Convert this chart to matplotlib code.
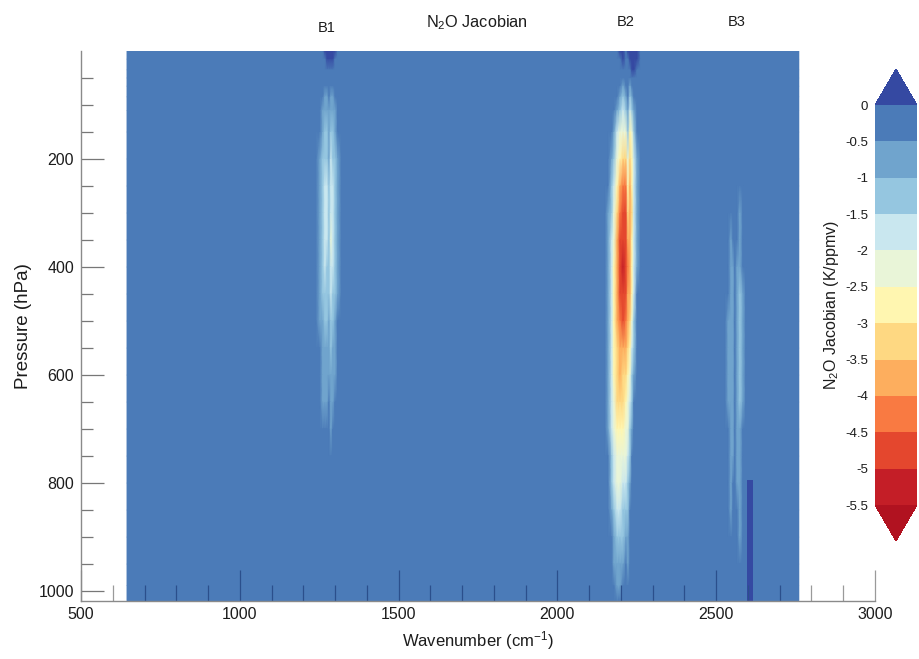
"""
N2O Jacobian shaded plot: wavenumber vs pressure.
"""

import numpy as np
import matplotlib
matplotlib.use('Agg')
import matplotlib.pyplot as plt
import matplotlib.colors as mcolors
from matplotlib.cm import ScalarMappable

plt.rcParams['font.family'] = ['Liberation Sans', 'DejaVu Sans']
plt.rcParams['mathtext.default'] = 'regular'

W, H = 919, 659

levels = [-5.5, -5, -4.5, -4, -3.5, -3, -2.5, -2, -1.5, -1, -0.5, 0]
level_labels = ['-5.5', '-5', '-4.5', '-4', '-3.5', '-3', '-2.5', '-2', '-1.5', '-1', '-0.5', '0']
level_colors = ['#c41e27', '#e4472e', '#f97a42', '#fdae5e', '#fed882', '#fff6b0',
                '#e9f5d8', '#c9e7ef', '#95c6e0', '#70a4cd', '#4b7bb8']
color_under = '#b11220'
color_over = '#3549a2'

pressure = [0, 15, 35, 50, 65, 85, 110, 150, 200, 250, 300, 350, 400,
            450, 500, 550, 600, 650, 700, 750, 800, 850, 900, 950, 990, 1018]

b1_wn = [1240, 1252, 1261, 1268, 1275, 1281, 1287, 1293, 1300, 1308, 1320]
b1_val = [
    [-.1, -.1, -.1, .02, .1, .1, .1, .1, .02, -.1, -.1],
    [-.1, -.1, -.1, -.1, .03, .05, .05, .03, -.1, -.1, -.1],
    [-.1, -.1, -.1, -.1, -.1, -.1, -.1, -.1, -.1, -.1, -.1],
    [-.1, -.1, -.1, -.1, -.1, -.1, -.1, -.1, -.1, -.1, -.1],
    [-.1, -.1, -.1, -.2, -.2, -.1, -.2, -.2, -.1, -.1, -.1],
    [-.1, -.1, -.3, -.7, -.6, -.4, -.7, -.8, -.3, -.1, -.1],
    [-.1, -.2, -.6, -.9, -.8, -.6, -1.0, -1.0, -.6, -.2, -.1],
    [-.1, -.4, -.9, -1.1, -1.1, -.8, -1.3, -1.2, -.9, -.4, -.1],
    [-.1, -.6, -1.1, -1.4, -1.4, -1.0, -1.6, -1.5, -1.1, -.6, -.1],
    [-.2, -.7, -1.2, -1.6, -1.6, -1.1, -1.9, -1.7, -1.2, -.7, -.2],
    [-.2, -.7, -1.3, -1.7, -1.6, -1.2, -2.0, -1.8, -1.3, -.7, -.2],
    [-.2, -.7, -1.3, -1.7, -1.6, -1.2, -2.1, -1.8, -1.3, -.7, -.2],
    [-.2, -.7, -1.3, -1.7, -1.5, -1.2, -2.0, -1.7, -1.2, -.7, -.2],
    [-.2, -.7, -1.2, -1.5, -1.3, -1.1, -1.8, -1.5, -1.1, -.6, -.2],
    [-.1, -.6, -1.0, -1.2, -1.1, -.9, -1.5, -1.2, -.9, -.5, -.1],
    [-.1, -.5, -.9, -1.0, -.9, -.7, -1.2, -1.0, -.8, -.4, -.1],
    [-.1, -.4, -.7, -.8, -.7, -.6, -1.0, -.8, -.6, -.3, -.1],
    [-.1, -.3, -.6, -.7, -.6, -.5, -.7, -.6, -.5, -.2, -.1],
    [-.1, -.2, -.5, -.5, -.4, -.4, -.6, -.5, -.4, -.1, -.1],
    [-.1, -.1, -.3, -.4, -.3, -.2, -.4, -.3, -.2, -.1, -.1],
    [-.1, -.1, -.2, -.3, -.2, -.2, -.3, -.2, -.2, -.1, -.1],
    [-.1, -.1, -.2, -.2, -.2, -.1, -.2, -.2, -.1, -.1, -.1],
    [-.1, -.1, -.1, -.2, -.1, -.1, -.1, -.1, -.1, -.1, -.1],
    [-.1, -.1, -.1, -.1, -.1, -.1, -.1, -.1, -.1, -.1, -.1],
    [-.1, -.1, -.1, -.1, -.1, -.1, -.1, -.1, -.1, -.1, -.1],
    [-.1, -.1, -.1, -.1, -.1, -.1, -.1, -.1, -.1, -.1, -.1],
]

b2_wn = [2150, 2160, 2171, 2178, 2188, 2197, 2207, 2216, 2222, 2229, 2235, 2241, 2251, 2262]
b2_val = [
    [-.1, -.1, -.1, -.1, -.1, .2, .2, -.1, .1, .4, .5, .5, .3, -.1],
    [-.1, -.1, -.1, -.1, -.1, -.1, .05, -.1, -.1, .2, .4, .4, .05, -.1],
    [-.1, -.1, -.1, -.1, -.1, -.1, -.1, -.1, -.1, -.1, .15, .3, -.1, -.1],
    [-.1, -.1, -.1, -.1, -.1, -.1, -.1, -.1, -.1, -.1, -.1, -.1, -.1, -.1],
    [-.1, -.1, -.1, -.1, -.1, -.2, -.7, -.4, -.2, -.8, -.4, -.1, -.1, -.1],
    [-.1, -.1, -.1, -.1, -.3, -.8, -1.2, -.9, -.4, -1.3, -1.0, -.4, -.1, -.1],
    [-.1, -.1, -.1, -.3, -.8, -1.3, -1.6, -1.4, -.7, -1.8, -1.5, -.9, -.2, -.1],
    [-.1, -.1, -.3, -.9, -1.7, -2.2, -2.5, -2.4, -1.3, -2.8, -2.1, -1.3, -.5, -.1],
    [-.1, -.2, -.8, -1.5, -2.4, -3.0, -3.2, -3.2, -2.2, -3.3, -2.6, -1.7, -.6, -.1],
    [-.1, -.5, -1.2, -2.0, -3.0, -3.8, -4.1, -4.1, -3.0, -3.7, -3.0, -1.9, -.7, -.1],
    [-.1, -.6, -1.5, -2.3, -3.4, -4.3, -4.7, -4.7, -3.5, -4.0, -3.1, -2.0, -.7, -.1],
    [-.1, -.7, -1.7, -2.5, -3.6, -4.7, -4.95, -4.95, -3.9, -4.0, -3.0, -2.0, -.7, -.1],
    [-.1, -.7, -1.8, -2.7, -3.7, -4.9, -5.05, -5.0, -4.1, -3.9, -2.9, -1.9, -.6, -.1],
    [-.1, -.7, -1.8, -2.7, -3.7, -4.8, -4.95, -4.8, -4.0, -3.7, -2.7, -1.7, -.5, -.1],
    [-.1, -.7, -1.8, -2.7, -3.6, -4.5, -4.6, -4.3, -3.7, -3.3, -2.3, -1.4, -.4, -.1],
    [-.1, -.7, -1.8, -2.7, -3.5, -4.0, -4.0, -3.8, -3.3, -2.9, -1.9, -1.1, -.3, -.1],
    [-.1, -.7, -1.8, -2.6, -3.3, -3.6, -3.5, -3.3, -2.9, -2.4, -1.5, -.8, -.2, -.1],
    [-.1, -.7, -1.7, -2.4, -3.1, -3.2, -3.1, -2.9, -2.5, -1.9, -1.1, -.5, -.1, -.1],
    [-.1, -.6, -1.6, -2.2, -2.8, -2.8, -2.7, -2.5, -2.2, -1.5, -.8, -.3, -.1, -.1],
    [-.1, -.5, -1.4, -2.0, -2.5, -2.5, -2.3, -2.1, -1.9, -1.1, -.5, -.1, -.1, -.1],
    [-.1, -.3, -1.1, -1.7, -2.1, -2.1, -1.9, -1.7, -1.5, -.7, -.2, -.1, -.1, -.1],
    [-.1, -.1, -.7, -1.4, -1.7, -1.7, -1.5, -1.2, -1.1, -.4, -.1, -.1, -.1, -.1],
    [-.1, -.1, -.3, -1.0, -1.4, -1.3, -1.1, -.9, -.9, -.2, -.1, -.1, -.1, -.1],
    [-.1, -.1, -.1, -.6, -1.0, -1.0, -.6, -.4, -.6, -.1, -.1, -.1, -.1, -.1],
    [-.1, -.1, -.1, -.1, -.6, -.7, -.2, -.1, -.1, -.1, -.1, -.1, -.1, -.1],
    [-.1, -.1, -.1, -.1, -.1, -.1, -.1, -.1, -.1, -.1, -.1, -.1, -.1, -.1],
]

b3_wn = [2528, 2538, 2547, 2553, 2559, 2566, 2575, 2584, 2593]
b3_val = [[-.1] * 9 for _ in range(10)] + [
    [-.1, -.1, -.1, -.1, -.1, -.2, -.6, -.1, -.1],
    [-.1, -.2, -.6, -.4, -.2, -.5, -.8, -.3, -.1],
    [-.1, -.4, -.8, -.6, -.3, -.7, -.95, -.5, -.1],
    [-.1, -.5, -.9, -.7, -.4, -.8, -1.05, -.6, -.1],
    [-.1, -.6, -.95, -.7, -.4, -.8, -1.1, -.6, -.1],
    [-.1, -.6, -.95, -.7, -.4, -.8, -1.1, -.6, -.1],
    [-.1, -.6, -.95, -.7, -.4, -.8, -1.05, -.6, -.1],
    [-.1, -.6, -.9, -.7, -.4, -.8, -1.05, -.6, -.1],
    [-.1, -.5, -.9, -.7, -.4, -.8, -1.0, -.5, -.1],
    [-.1, -.4, -.85, -.6, -.3, -.7, -.95, -.4, -.1],
    [-.1, -.3, -.8, -.5, -.3, -.6, -.9, -.3, -.1],
    [-.1, -.2, -.7, -.4, -.2, -.5, -.8, -.2, -.1],
    [-.1, -.1, -.5, -.2, -.1, -.4, -.6, -.1, -.1],
    [-.1, -.1, -.1, -.1, -.1, -.1, -.1, -.1, -.1],
    [-.1, -.1, -.1, -.1, -.1, -.1, -.1, -.1, -.1],
    [-.1, -.1, -.1, -.1, -.1, -.1, -.1, -.1, -.1],
]

# narrow dark strip right of B3, only in the lower atmosphere
strip_wn = [2596, 2616]
strip_pressure = [795, 1018]
strip_val = [[.3]]

edge_wn = [645, 2760]
edge_pressure = [0, 1018]
background = -.1

x_major = [500, 1000, 1500, 2000, 2500, 3000]
x_minor = [600, 700, 800, 900, 1100, 1200, 1300, 1400, 1600, 1700, 1800, 1900,
           2100, 2200, 2300, 2400, 2600, 2700, 2800, 2900]
y_major = [200, 400, 600, 800, 1000]
y_minor = [50, 100, 150, 250, 300, 350, 450, 500, 550, 650, 700, 750, 850, 900, 950]

band_names = ['B1', 'B2', 'B3']
band_centers = [1275, 2215, 2565]
band_heights = [1.042, 1.053, 1.053]


def build_field():
    fill = np.full((len(pressure), 1), background)
    wn = np.array([edge_wn[0]] + b1_wn + b2_wn + b3_wn + [edge_wn[1]], dtype=float)
    z = np.hstack([fill, np.array(b1_val), np.array(b2_val), np.array(b3_val), fill])
    return wn, np.array(pressure, dtype=float), z


wn, pres, z = build_field()

cmap = mcolors.ListedColormap(level_colors)
cmap.set_under(color_under)
cmap.set_over(color_over)
norm = mcolors.BoundaryNorm(levels, cmap.N, extend='neither')

fig = plt.figure(figsize=(W / 100, H / 100), dpi=100)
ax = fig.add_axes([81 / W, 1 - 600.5 / H, (875 - 81) / W, (600.5 - 51) / H])

# flat layer under the gouraud mesh hides its edge seams
ax.pcolormesh(edge_wn, edge_pressure, [[background]], shading='flat', cmap=cmap, norm=norm)
ax.pcolormesh(wn, pres, z, shading='gouraud', cmap=cmap, norm=norm)
ax.pcolormesh(strip_wn, strip_pressure, strip_val, shading='flat', cmap=cmap, norm=norm)
ax.set_xlim(500, 3000)
ax.set_ylim(1017.5, 0)

for side in ['top', 'right']:
    ax.spines[side].set_visible(False)
for side in ['left', 'bottom']:
    ax.spines[side].set_color('#8a8a8a')
    ax.spines[side].set_linewidth(1.0)

ax.set_xticks(x_major)
ax.set_xticks(x_minor, minor=True)
ax.set_yticks(y_major)
ax.set_yticks(y_minor, minor=True)
ax.tick_params(axis='x', which='major', direction='in', length=22, width=0.9, color='#9a9a9a',
               labelsize=11.5, pad=5, labelcolor='#1c1c1c')
ax.tick_params(axis='x', which='minor', direction='in', length=11.5, width=0.9, color='#9a9a9a')
ax.tick_params(axis='y', which='major', direction='in', length=16.5, width=0.9, color='#777777',
               labelsize=11.5, pad=5, labelcolor='#1c1c1c')
ax.tick_params(axis='y', which='minor', direction='in', length=8.5, width=0.9, color='#777777')

# ticks over the filled field look dark blue
for loc, tick in zip(x_major, ax.xaxis.get_major_ticks()):
    if edge_wn[0] < loc < edge_wn[1]:
        tick.tick1line.set_markeredgecolor('#2b4f8c')
for loc, tick in zip(x_minor, ax.xaxis.get_minor_ticks()):
    if edge_wn[0] < loc < edge_wn[1]:
        tick.tick1line.set_markeredgecolor('#2b4f8c')

ax.set_xlabel('Wavenumber (cm$^{-1}$)', fontsize=12, color='#1c1c1c', labelpad=5)
ax.set_ylabel('Pressure (hPa)', fontsize=13.5, color='#1c1c1c', labelpad=5)

for name, center, height in zip(band_names, band_centers, band_heights):
    ax.text(center, height, name, transform=ax.get_xaxis_transform(), ha='center', va='center',
            fontsize=10.5, color='#1c1c1c')
fig.text(477 / W, 1 - 23 / H, 'N$_2$O Jacobian', ha='center', va='center', fontsize=11.7, color='#1c1c1c')

cax = fig.add_axes([875 / W, 1 - 541 / H, 42 / W, (541 - 69) / H])
mappable = ScalarMappable(norm=norm, cmap=cmap)
cb = fig.colorbar(mappable, cax=cax, extend='both', extendfrac=0.09, spacing='uniform')
cb.outline.set_visible(False)
cb.set_ticks(levels)
cb.set_ticklabels(level_labels)
cb.ax.yaxis.set_ticks_position('left')
cb.ax.tick_params(length=0, pad=5, labelsize=9.5, labelcolor='#1c1c1c')
cb.ax.minorticks_off()
cb.ax.yaxis.set_label_position('left')
cb.set_label('N$_2$O Jacobian (K/ppmv)', fontsize=11.5, color='#1c1c1c', labelpad=3)

fig.savefig('out.png', dpi=100, facecolor='white')
plt.close(fig)
